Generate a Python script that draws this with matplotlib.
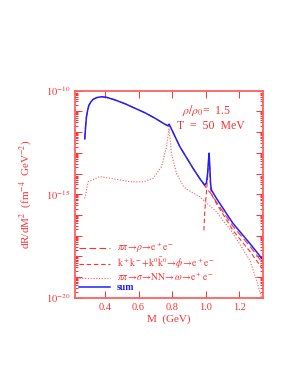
import numpy as np
import matplotlib
matplotlib.use('Agg')
import matplotlib.pyplot as plt
from matplotlib.ticker import LogLocator, NullFormatter, FixedLocator

plt.rcParams['font.family'] = ['Liberation Serif', 'DejaVu Serif']
plt.rcParams['mathtext.fontset'] = 'stix'

RED = '#ff3030'
BLUE = '#2020ff'

# invariant mass (GeV) and log10 of the rate
m_sum = [0.279, 0.283, 0.289, 0.296, 0.303, 0.315, 0.328, 0.350, 0.378, 0.410,
         0.458, 0.520, 0.577, 0.640, 0.697, 0.756, 0.775, 0.782, 0.790, 0.846,
         0.925, 0.970, 0.995, 1.005, 1.012, 1.018, 1.021, 1.024, 1.030, 1.035,
         1.065, 1.164, 1.264, 1.340]
lg_sum = [-12.33, -11.80, -11.26, -10.95, -10.72, -10.55, -10.43, -10.34, -10.30, -10.33,
          -10.45, -10.64, -10.85, -11.08, -11.33, -11.62, -11.70, -11.62, -11.75, -12.70,
          -13.75, -14.30, -14.56, -14.45, -14.00, -13.30, -13.02, -13.50, -14.50, -14.80,
          -15.20, -16.41, -17.37, -18.14]

m_rho = [0.279, 0.283, 0.289, 0.296, 0.303, 0.315, 0.328, 0.350, 0.378, 0.410,
         0.458, 0.520, 0.577, 0.640, 0.697, 0.756, 0.782, 0.790, 0.846, 0.925,
         0.970, 0.995, 1.035, 1.065, 1.164, 1.264, 1.340]
lg_rho = [-12.33, -11.80, -11.26, -10.95, -10.72, -10.55, -10.43, -10.34, -10.30, -10.33,
          -10.45, -10.64, -10.85, -11.08, -11.33, -11.62, -11.72, -11.76, -12.70, -13.75,
          -14.30, -14.60, -15.00, -15.38, -16.55, -17.50, -18.30]

m_kk = [0.990, 0.995, 1.005, 1.012, 1.018, 1.021, 1.024, 1.030, 1.035, 1.065,
        1.164, 1.264, 1.340]
lg_kk = [-16.74, -15.80, -14.90, -14.20, -13.40, -13.10, -13.60, -14.70, -15.00, -15.45,
         -16.75, -17.75, -18.60]

m_sig = [0.279, 0.299, 0.368, 0.468, 0.548, 0.627, 0.687, 0.737, 0.767, 0.782,
         0.796, 0.826, 0.866, 0.886, 0.965, 1.065, 1.164, 1.264, 1.304, 1.334]
lg_sig = [-15.20, -14.40, -14.15, -14.28, -14.40, -14.40, -14.23, -13.67, -12.70, -11.82,
          -13.02, -13.99, -14.60, -14.75, -15.12, -15.85, -16.89, -18.18, -19.14, -20.00]

labels = [r'$\pi\pi\!\rightarrow\!\rho\!\rightarrow\!\mathrm{e^+e^-}$',
          r'$\mathrm{k^+k^-\!+\!k^0\bar{k}^0\!\rightarrow\!}\phi\!\rightarrow\!\mathrm{e^+e^-}$',
          r'$\pi\pi\!\rightarrow\!\sigma\!\rightarrow\!\mathrm{NN}\!\rightarrow\!\omega\!\rightarrow\!\mathrm{e^+e^-}$',
          'sum']

fig = plt.figure(figsize=(2.95, 3.82), dpi=100)
ax = fig.add_axes([0.254, 0.220, 0.636, 0.543])

ax.plot(m_rho, 10.0 ** np.array(lg_rho), color=RED, lw=0.8, ls=(0, (6, 3)), label=labels[0])
ax.plot(m_kk, 10.0 ** np.array(lg_kk), color=RED, lw=0.8, ls=(0, (4, 2.5)), label=labels[1])
ax.plot(m_sig, 10.0 ** np.array(lg_sig), color=RED, lw=0.8, ls=(0, (1, 1.5)), alpha=0.8, label=labels[2])
ax.plot(m_sum, 10.0 ** np.array(lg_sum), color=BLUE, lw=1.1, label=labels[3])

ax.set_yscale('log')
ax.set_xlim(0.22, 1.34)
ax.set_ylim(1e-20, 1e-10)

ax.xaxis.set_major_locator(FixedLocator([0.4, 0.6, 0.8, 1.0, 1.2]))
ax.set_xticklabels(['0.4', '0.6', '0.8', '1.0', '1.2'])
ax.yaxis.set_minor_locator(LogLocator(base=10, subs=np.arange(2, 10), numticks=100))
ax.yaxis.set_minor_formatter(NullFormatter())
ax.set_yticks([1e-20, 1e-19, 1e-18, 1e-17, 1e-16, 1e-15, 1e-14, 1e-13, 1e-12, 1e-11, 1e-10])
ax.set_yticklabels([r'$10^{-20}$', '', '', '', '', r'$10^{-15}$', '', '', '', '', r'$10^{-10}$'])

ax.tick_params(which='both', direction='in', top=True, right=True, colors=RED,
               labelcolor=RED, labelsize=7.5, width=0.7)
ax.tick_params(which='major', length=5)
ax.tick_params(which='minor', length=2.5)
for s in ax.spines.values():
    s.set_color('#ff6060')
    s.set_linewidth(1.3)

ax.set_xlabel('M  (GeV)', color=RED, fontsize=8, labelpad=2)
ax.set_ylabel(r'dR/dM$^2$  (fm$^{-4}$  GeV$^{-2}$)', color=RED, fontsize=8, labelpad=8)

ax.text(0.70, 0.905, r'$\rho/\rho_0$=  1.5', transform=ax.transAxes, color=RED,
        fontsize=8.5, ha='center', va='center')
ax.text(0.725, 0.83, 'T  =  50  MeV', transform=ax.transAxes, color=RED,
        fontsize=8.5, ha='center', va='center')

leg = ax.legend(loc='lower left', bbox_to_anchor=(-0.01, 0.0), frameon=False, fontsize=7,
                handlelength=3.2, handletextpad=0.7, labelspacing=0.0, borderaxespad=0.2)
for i, t in enumerate(leg.get_texts()):
    t.set_color(BLUE if i == 3 else RED)
leg.get_texts()[3].set_fontweight('bold')

fig.savefig('out.png', dpi=100)
